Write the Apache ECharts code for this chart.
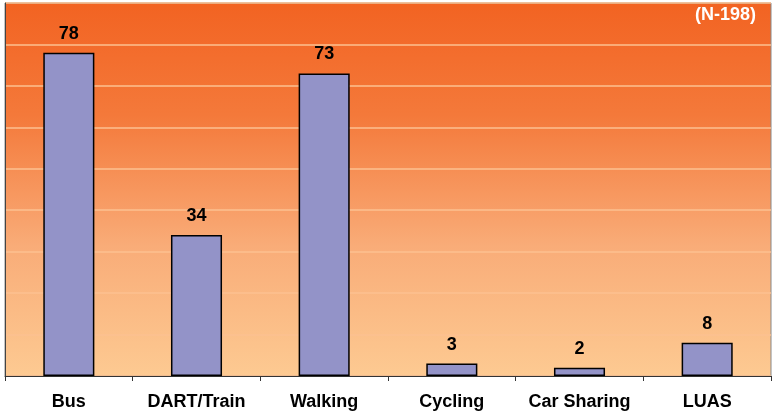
<!DOCTYPE html>
<html>
<head>
<meta charset="utf-8">
<script src="https://cdn.jsdelivr.net/npm/echarts@6/dist/echarts.min.js"></script>
<style>
  html, body { margin: 0; padding: 0; background: #fff; }
  #chart { width: 772px; height: 417px; }
</style>
</head>
<body>
<div id="chart"></div>
<script>
// data
const categories = ['Bus', 'DART/Train', 'Walking', 'Cycling', 'Car Sharing', 'LUAS'];
const counts = [78, 34, 73, 3, 2, 8];
const sampleNote = '(N-198)';

const chart = echarts.init(document.getElementById('chart'));

const option = {
    animation: false,
    grid: {
        left: 5,
        right: 1,
        top: 3,
        bottom: 41,
        show: true,
        borderColor: '#888',
        borderWidth: 1,
        backgroundColor: new echarts.graphic.LinearGradient(0, 0, 0, 1, [
            {offset: 0, color: '#f26322'},
            {offset: 0.3, color: '#f4793a'},
            {offset: 0.65, color: '#f9ac78'},
            {offset: 1, color: '#fdca92'}
        ])
    },
    graphic: [{
        type: 'text',
        right: 16,
        top: 6,
        style: {
            text: sampleNote,
            fill: '#fff',
            font: 'bold 18px "Liberation Sans", Arial, sans-serif'
        }
    }],
    xAxis: {
        type: 'category',
        data: categories,
        axisLine: {lineStyle: {color: '#333', width: 1}},
        axisTick: {show: true, interval: 0, length: 5, lineStyle: {color: '#333'}},
        axisLabel: {
            interval: 0,
            hideOverlap: false,
            color: '#000',
            fontWeight: 'bold',
            fontSize: 18,
            fontFamily: '"Liberation Sans", Arial, sans-serif',
            margin: 17
        }
    },
    yAxis: {
        type: 'value',
        min: 0,
        max: 90,
        interval: 10,
        axisLine: {show: true, lineStyle: {color: '#444'}},
        axisTick: {show: false},
        axisLabel: {show: false},
        splitLine: {lineStyle: {color: '#fcc090', width: 1.5}}
    },
    series: [{
        type: 'bar',
        data: counts,
        barWidth: '40%',
        itemStyle: {
            color: '#9393c8',
            borderColor: '#000',
            borderWidth: 1.5
        },
        label: {
            show: true,
            position: 'top',
            distance: 10,
            color: '#000',
            fontWeight: 'bold',
            fontSize: 18,
            fontFamily: '"Liberation Sans", Arial, sans-serif'
        }
    }]
};

chart.setOption(option);
</script>
</body>
</html>
